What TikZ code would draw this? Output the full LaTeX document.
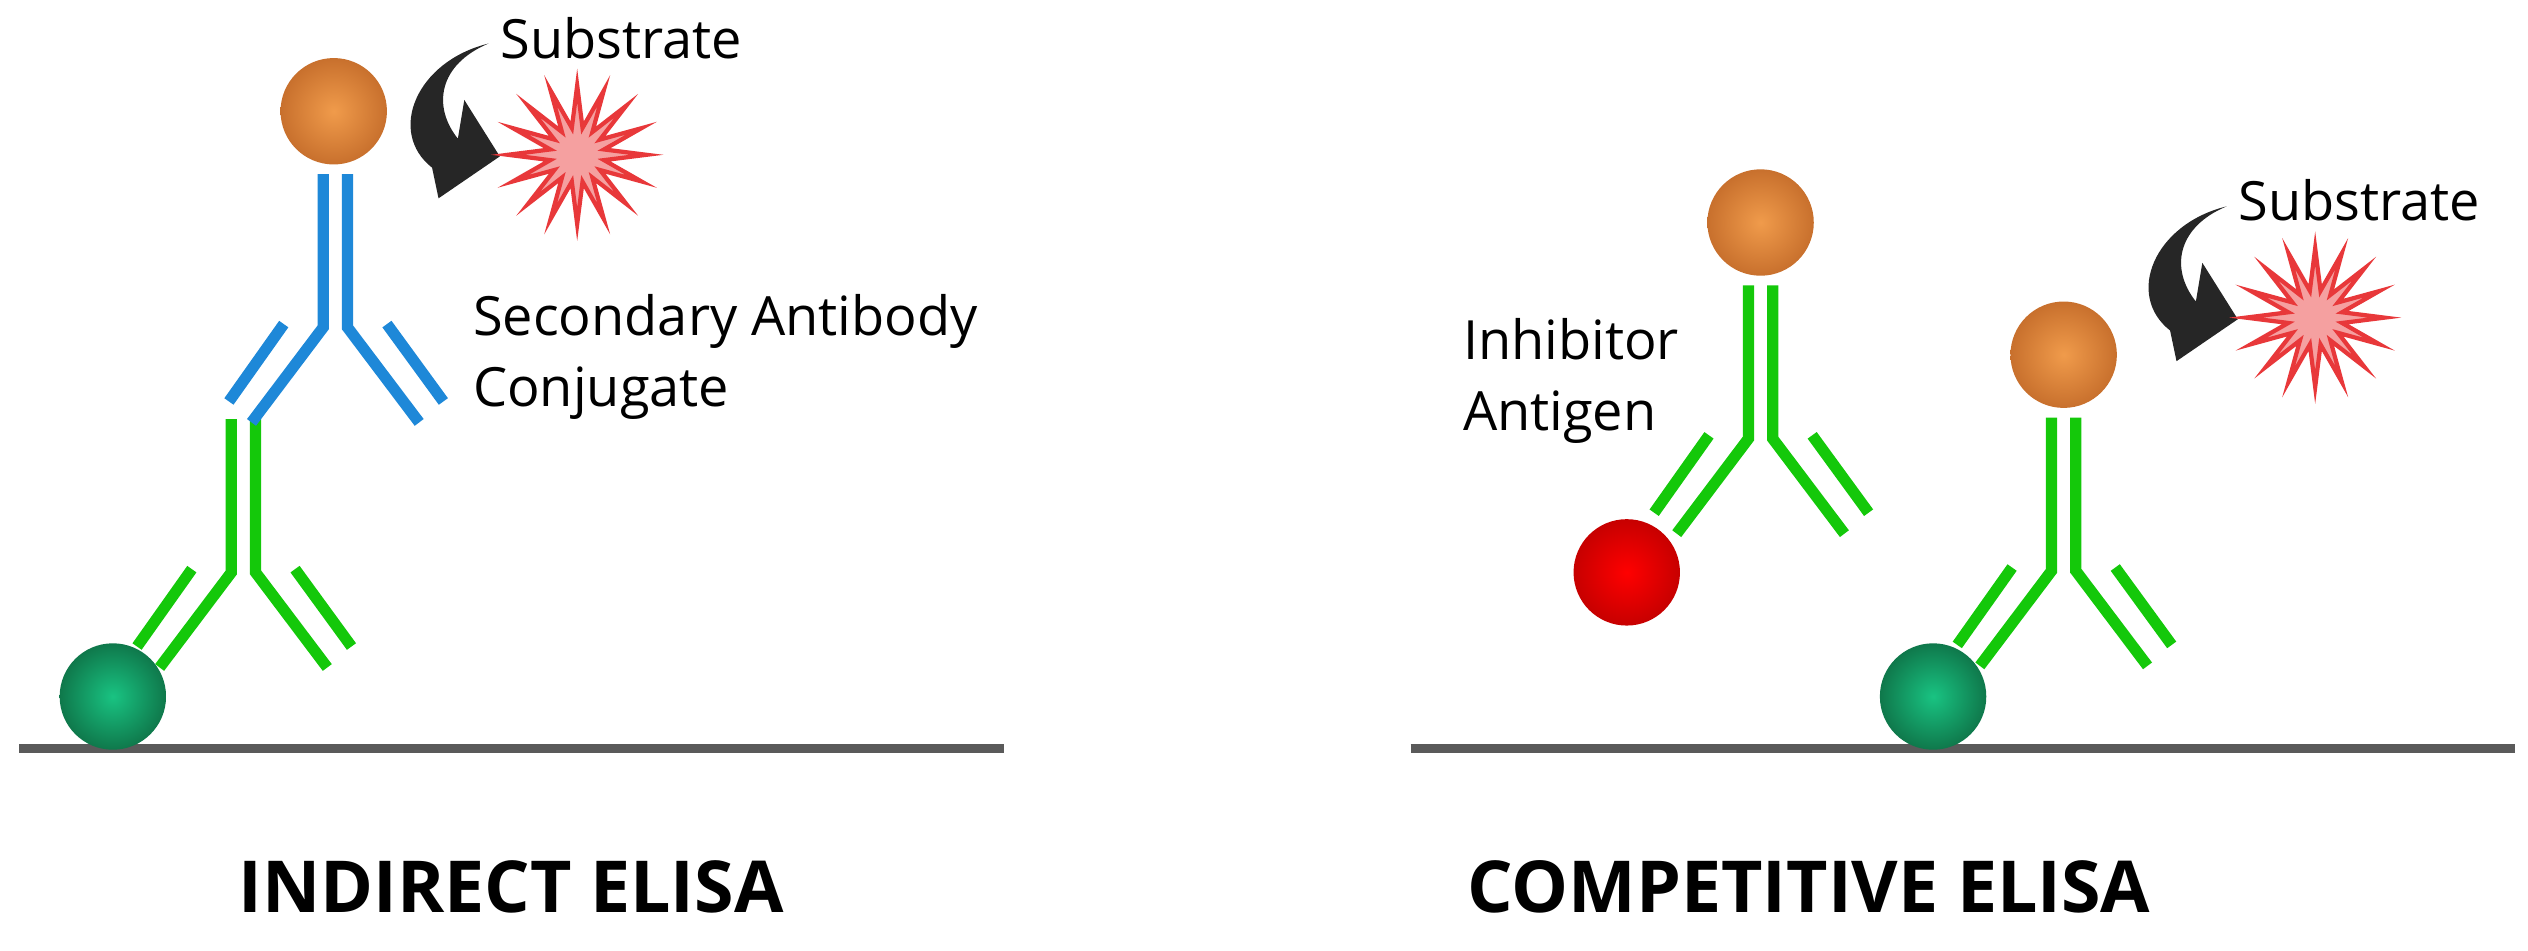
\documentclass[tikz,border=0pt]{standalone}
\usepackage{fontspec}
\setmainfont{Open Sans}
\definecolor{abgreen}{RGB}{20,200,10}
\definecolor{abblue}{RGB}{30,136,216}
\definecolor{ground}{RGB}{90,90,90}
\definecolor{starred}{RGB}{232,56,58}
\definecolor{starpink}{RGB}{245,160,160}
\definecolor{orin}{RGB}{240,155,75}
\definecolor{orout}{RGB}{200,112,45}
\definecolor{grin}{RGB}{25,195,130}
\definecolor{grout}{RGB}{15,120,75}
\newcommand\antibody[3]{%
 \begin{scope}[shift={(#1,#2)},draw=#3,line width=3.2pt,line join=miter]
  \draw (-7.5,-95) -- (-7.5,0) -- (-52,59);
  \draw (7.5,-95) -- (7.5,0) -- (52,59);
  \draw (-32,-2) -- (-66,46);
  \draw (32,-2) -- (67,46);
 \end{scope}}
\newcommand\ballat[4]{\shade[inner color=#3,outer color=#4] (#1,#2) circle (33);}
\tikzset{lbl/.style={font=\fontsize{15.4}{20}\selectfont,inner sep=0pt,align=left},
 ttl/.style={font=\fontsize{20.4}{24}\selectfont\bfseries,inner sep=0pt}}
\begin{document}
\begin{tikzpicture}[x=0.016122cm,y=-0.016122cm]
\useasboundingbox (0,0) rectangle (1568,589.3);
% ground lines
\draw[ground,line width=2.6pt] (12,464) -- (623,464);
\draw[ground,line width=2.6pt] (875,464) -- (1560,464);
% left panel
\antibody{151}{355}{abgreen}
\antibody{208}{203}{abblue}
\ballat{70}{432}{grin}{grout}
\ballat{207}{69}{orin}{orout}
% right panel
\antibody{1092}{272}{abgreen}
\antibody{1280}{354}{abgreen}
\ballat{1092}{138}{orin}{orout}
\ballat{1280}{220}{orin}{orout}
\ballat{1009}{355}{red}{red!78!black}
\ballat{1199}{432}{grin}{grout}
% substrate arrows and stars
\foreach \dx/\dy/\nm in {0/0/subL,1078/101/subR}{
 \begin{scope}[shift={(\dx,\dy)}]
  \fill[black!85] (303,27) .. controls (258,38) and (240,82) .. (268,104)
    -- (272,123) -- (310,97) -- (288,62) -- (284,86)
    .. controls (268,66) and (272,40) .. (303,27) -- cycle;
  \filldraw[draw=starred,fill=starpink,line width=1.2pt,line join=miter]
    plot[samples at={0,...,32},variable=\i] ({358+cos(\i*11.25)*(mod(\i,2)==0 ? 43 : 17)},{96+sin(\i*11.25)*(mod(\i,2)==0 ? 43 : 17)}) -- cycle;
  \node[lbl,anchor=base west] (\nm) at (310,36) {Substrate};
 \end{scope}}
\node[lbl,anchor=base west] (sec) at (293,208) {Secondary Antibody};
\node[lbl,anchor=base west] (conj) at (293,252) {Conjugate};
\node[lbl,anchor=base west] (inh) at (907,223) {Inhibitor};
\node[lbl,anchor=base west] (ant) at (907,267) {Antigen};
\node[ttl,anchor=base] (t1) at (317,566) {INDIRECT ELISA};
\node[ttl,anchor=base] (t2) at (1122,566) {COMPETITIVE ELISA};
\end{tikzpicture}
\end{document}
